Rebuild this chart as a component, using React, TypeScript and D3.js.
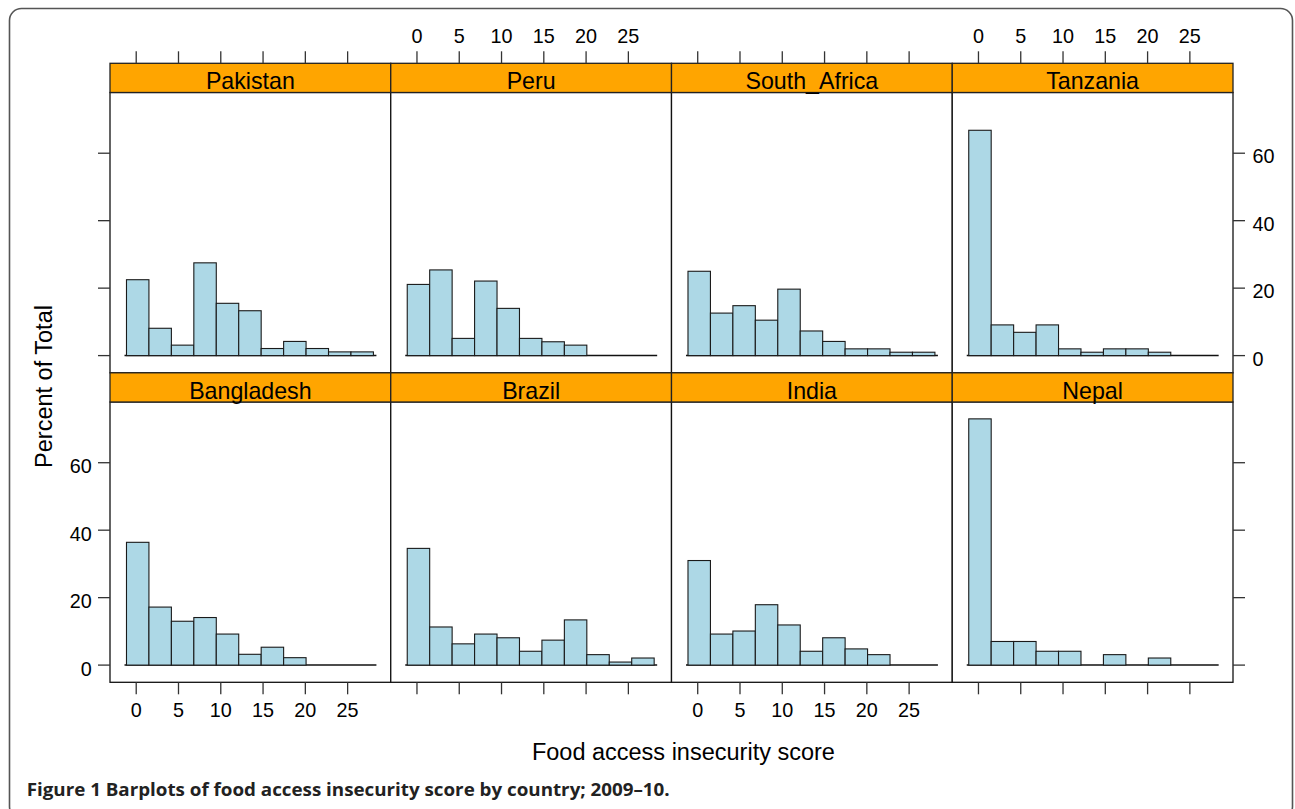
import React from 'react';
import * as d3 from 'd3';

// ---- data ----
const scoreTicks = [0, 5, 10, 15, 20, 25];
const percentTicks = [0, 20, 40, 60];
const topRowCountries = ['Pakistan', 'Peru', 'South_Africa', 'Tanzania'];
const bottomRowCountries = ['Bangladesh', 'Brazil', 'India', 'Nepal'];

const pakistan = [22.5, 8.1, 3.1, 27.5, 15.5, 13.3, 2.1, 4.2, 2.1, 1.1, 1.1];
const peru = [21.1, 25.4, 5.1, 22.1, 14.0, 5.1, 4.1, 3.1, 0, 0, 0];
const southAfrica = [25.0, 12.6, 14.8, 10.5, 19.7, 7.3, 4.2, 2.0, 2.0, 1.0, 1.0];
const tanzania = [66.8, 9.1, 6.9, 9.1, 2.0, 1.0, 2.0, 2.0, 1.0, 0, 0];
const bangladesh = [36.4, 17.2, 13.0, 14.1, 9.2, 3.2, 5.3, 2.2, 0, 0, 0];
const brazil = [34.6, 11.3, 6.3, 9.2, 8.1, 4.1, 7.4, 13.4, 3.1, 0.9, 2.1];
const india = [31.0, 9.2, 10.1, 17.9, 11.9, 4.1, 8.1, 4.8, 3.1, 0, 0];
const nepal = [73.0, 7.0, 7.0, 4.1, 4.1, 0, 3.1, 0, 2.1, 0, 0];

const seriesByCountry: Record<string, number[]> = {
  Pakistan: pakistan,
  Peru: peru,
  South_Africa: southAfrica,
  Tanzania: tanzania,
  Bangladesh: bangladesh,
  Brazil: brazil,
  India: india,
  Nepal: nepal,
};

const binStart = -1.15;
const binEnd = 28.05;
const xDomain = [-3.1, 30.1];
const yDomain = [-5.1, 78.0];

const xLabel = 'Food access insecurity score';
const yLabel = 'Percent of Total';
const caption = 'Figure 1 Barplots of food access insecurity score by country; 2009–10.';

const FONT = '"Liberation Sans", Arial, Helvetica, sans-serif';

export default function App() {
  const W = 1295;
  const H = 809;
  const left = 110;
  const right = 1233;
  const top = 63.3;
  const stripH = 29.2;
  const plotH = 280.3;
  const rowH = stripH + plotH;
  const tickLen = 12;
  const axisColor = '#333';

  const colScale = d3.scaleBand<number>().domain([0, 1, 2, 3]).range([left, right]);
  const colW = colScale.bandwidth();
  const rows = [topRowCountries, bottomRowCountries];

  const nBins = pakistan.length;
  const binW = (binEnd - binStart) / nBins;

  const panels: React.ReactNode[] = [];
  const axes: React.ReactNode[] = [];

  rows.forEach((row, r) => {
    const stripTop = top + r * rowH;
    const plotTop = stripTop + stripH;
    const plotBottom = plotTop + plotH;
    const y = d3.scaleLinear().domain(yDomain).range([plotBottom, plotTop]);

    row.forEach((country, c) => {
      const x0 = colScale(c)!;
      const x = d3.scaleLinear().domain(xDomain).range([x0, x0 + colW]);
      const vals = seriesByCountry[country];
      panels.push(
        <g key={country}>
          <rect x={x0} y={plotTop} width={colW} height={plotH} fill="#fff" stroke="#111" strokeWidth={1.3} />
          <line x1={x(binStart) - 2} x2={x(binEnd) + 3} y1={y(0)} y2={y(0)} stroke="#111" strokeWidth={1.5} />
          {vals.map((v, i) => {
            const a = binStart + i * binW;
            const b = a + binW;
            return (
              <rect
                key={i}
                x={x(a)}
                y={y(v)}
                width={x(b) - x(a)}
                height={Math.max(0, y(0) - y(v))}
                fill="#ADD8E6"
                stroke="#1a1a1a"
                strokeWidth={1.1}
              />
            );
          })}
          <rect x={x0} y={stripTop} width={colW} height={stripH} fill="#FFA500" stroke="#222" strokeWidth={1.3} />
          <text
            x={x0 + colW / 2}
            y={stripTop + 25.8}
            textAnchor="middle"
            fontFamily={FONT}
            fontSize={23.2}
            fill="#000"
          >
            {country}
          </text>
        </g>
      );

      if (r === 0) {
        const labelled = c % 2 === 1;
        scoreTicks.forEach((t) => {
          axes.push(
            <line key={`tt${c}-${t}`} x1={x(t)} x2={x(t)} y1={stripTop} y2={stripTop - tickLen} stroke={axisColor} strokeWidth={1.3} />
          );
          if (labelled)
            axes.push(
              <text key={`tl${c}-${t}`} x={x(t)} y={stripTop - 20.6} textAnchor="middle" fontFamily={FONT} fontSize={19.8} fill="#000">
                {t}
              </text>
            );
        });
      } else {
        const labelled = c % 2 === 0;
        scoreTicks.forEach((t) => {
          axes.push(
            <line key={`bt${c}-${t}`} x1={x(t)} x2={x(t)} y1={plotBottom} y2={plotBottom + tickLen} stroke={axisColor} strokeWidth={1.3} />
          );
          if (labelled)
            axes.push(
              <text key={`bl${c}-${t}`} x={x(t)} y={plotBottom + 34.6} textAnchor="middle" fontFamily={FONT} fontSize={19.8} fill="#000">
                {t}
              </text>
            );
        });
      }
    });

    percentTicks.forEach((t) => {
      axes.push(
        <line key={`ly${r}-${t}`} x1={left} x2={left - tickLen} y1={y(t)} y2={y(t)} stroke={axisColor} strokeWidth={1.3} />
      );
      if (r === 1)
        axes.push(
          <text key={`lyl${r}-${t}`} x={left - 18.3} y={y(t) + 10.5} textAnchor="end" fontFamily={FONT} fontSize={19.8} fill="#000">
            {t}
          </text>
        );
      axes.push(
        <line key={`ry${r}-${t}`} x1={right} x2={right + tickLen} y1={y(t)} y2={y(t)} stroke={axisColor} strokeWidth={1.3} />
      );
      if (r === 0)
        axes.push(
          <text key={`ryl${r}-${t}`} x={right + 19.5} y={y(t) + 10.2} textAnchor="start" fontFamily={FONT} fontSize={19.8} fill="#000">
            {t}
          </text>
        );
    });
  });

  return (
    <svg
      width={W}
      height={H}
      viewBox={`0 0 ${W} ${H}`}
      style={{ position: 'absolute', left: 0, top: 0, background: '#fff' }}
    >
      <rect x={0} y={0} width={W} height={H} fill="#fff" />
      <rect x={9.5} y={8.5} width={1283} height={810} rx={12} ry={12} fill="none" stroke="#555" strokeWidth={1.6} />
      {panels}
      {axes}
      <text
        transform={`translate(51.5, 386.5) rotate(-90)`}
        textAnchor="middle"
        fontFamily={FONT}
        fontSize={23.5}
        fill="#000"
      >
        {yLabel}
      </text>
      <text x={683.4} y={760} textAnchor="middle" fontFamily={FONT} fontSize={23.5} fill="#000">
        {xLabel}
      </text>
      <text
        x={26.7}
        y={796}
        fontFamily='"Open Sans", "Noto Sans", sans-serif'
        fontWeight={700}
        fontSize={18}
        fill="#222"
        textLength={643}
        lengthAdjust="spacingAndGlyphs"
      >
        {caption}
      </text>
    </svg>
  );
}
